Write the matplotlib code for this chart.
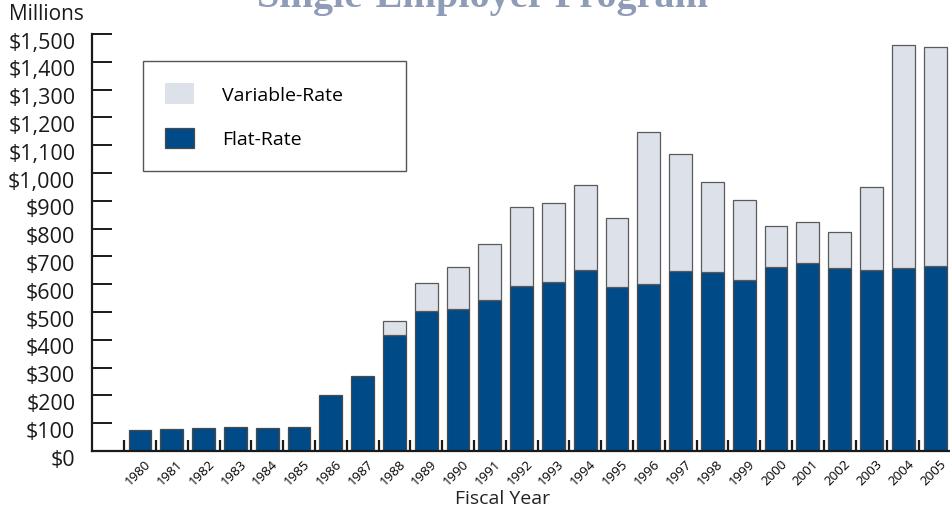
import numpy as np
import matplotlib
matplotlib.use("Agg")
import matplotlib.pyplot as plt
from matplotlib.transforms import ScaledTranslation

# PBGC single-employer premium income, millions of dollars
years = list(range(1980, 2006))
flat_rate = [75, 79, 83, 85, 83, 86, 202, 269, 417, 505, 511, 543, 592,
             607, 651, 590, 602, 648, 644, 614, 663, 676, 657, 650, 657, 665]
variable_rate = [0, 0, 0, 0, 0, 0, 0, 0, 49, 99, 150, 200, 285,
                 284, 306, 249, 545, 420, 323, 290, 145, 147, 132, 298, 803, 787]
y_ticks = list(range(0, 1501, 100))

plt.rcParams['font.family'] = ['Open Sans', 'DejaVu Sans']

fig = plt.figure(figsize=(9.5, 5.1), dpi=100)
ax = fig.add_axes([92 / 950, 58 / 510, 858 / 950, 417 / 510])

x = np.arange(len(years))
width = 0.72
flat_color = '#004a87'
var_color = '#dde2ea'

ax.bar(x, flat_rate, width, color=flat_color, edgecolor='#4a4a4a',
       linewidth=0.9, label='Flat-Rate', zorder=2)
ax.bar(x, variable_rate, width, bottom=flat_rate, color=var_color,
       edgecolor='#5a5a5a',
       linewidth=[0.9 if v > 0 else 0 for v in variable_rate],
       label='Variable-Rate', zorder=2)

ax.set_xlim(-1.51, 25.47)
ax.set_ylim(0, 1500)

for side in ['top', 'right']:
    ax.spines[side].set_visible(False)
for side in ['left', 'bottom']:
    ax.spines[side].set_linewidth(1.6)
    ax.spines[side].set_color('#1a1a1a')

ax.set_yticks(y_ticks)
ax.set_yticklabels(['$0' if v == 0 else '${:,}'.format(v) for v in y_ticks])
ax.tick_params(axis='y', direction='in', length=14.5, width=1.4,
               pad=12, labelsize=15.5, colors='#1a1a1a')
offset = ScaledTranslation(0, -4 / 72, fig.dpi_scale_trans)
for lab in ax.get_yticklabels():
    lab.set_transform(lab.get_transform() + offset)

ax.set_xticks(x)
ax.set_xticklabels([str(y) for y in years], fontsize=9.5)
ax.tick_params(axis='x', which='major', length=0, pad=4)
xoff = ScaledTranslation(3 / 72, 0, fig.dpi_scale_trans)
for lab in ax.get_xticklabels():
    lab.set_rotation(45)
    lab.set_ha('right')
    lab.set_va('top')
    lab.set_rotation_mode('anchor')
    lab.set_transform(lab.get_transform() + xoff)
ax.set_xticks(x - 0.5, minor=True)
ax.tick_params(axis='x', which='minor', direction='in', length=8,
               width=1.6, colors='#1a1a1a')

fig.text(503 / 950, 1 - 504 / 510, 'Fiscal Year', ha='center',
         va='baseline', fontsize=14, color='#222222')

handles, labels = ax.get_legend_handles_labels()
leg = ax.legend(handles[::-1], labels[::-1], loc='upper left',
                bbox_to_anchor=(0.0594, 0.935, 0.3065, 0.0), mode='expand',
                fancybox=False, framealpha=1, edgecolor='#555555',
                fontsize=14, handlelength=1.5, handleheight=1.25,
                handletextpad=1.4, labelspacing=1.2, borderpad=1.15,
                borderaxespad=0)
leg.get_frame().set_linewidth(1.0)

fig.text(0.508, 1 - 7 / 510, 'Single-Employer Program', ha='center',
         va='baseline', fontsize=29, fontweight='bold',
         family='Liberation Serif', color='#8e9cb8')
fig.text(9 / 950, 1 - 20 / 510, 'Millions', ha='left', va='baseline',
         fontsize=15, color='#1a1a1a')

fig.savefig('out.png', dpi=100)
